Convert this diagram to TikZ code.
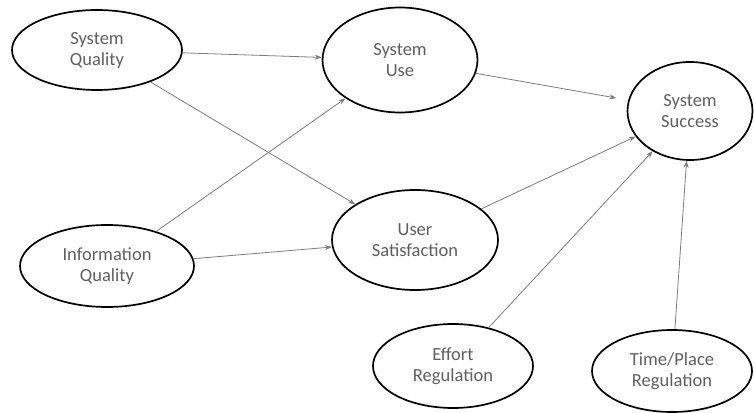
\documentclass[tikz,border=0pt]{standalone}
\usepackage{fontspec}
\setmainfont{Carlito}
\usetikzlibrary{arrows.meta,shapes.geometric}
\definecolor{inkgray}{RGB}{95,95,95}
\definecolor{linegray}{RGB}{125,125,125}

\begin{document}
\begin{tikzpicture}[x=1pt,y=1pt,
  construct/.style={draw=black,line width=1.7pt,ellipse,inner sep=0pt,align=center,text=inkgray,font=\fontsize{18.5}{21}\selectfont},
  arr/.style={-{Stealth[length=7pt,width=5pt]},linegray,line width=0.8pt}
]
\useasboundingbox (0,0) rectangle (754,412);
\node[construct,minimum width=170pt,minimum height=80pt] (sq) at (97,362) {System\\Quality};
\node[construct,minimum width=155pt,minimum height=105pt] (su) at (400,352) {System\\Use};
\node[construct,minimum width=125pt,minimum height=98pt] (ss) at (690,301) {System\\Success};
\node[construct,minimum width=166pt,minimum height=100pt] (us) at (415,172) {User\\Satisfaction};
\node[construct,minimum width=174pt,minimum height=82pt] (iq) at (107,146) {Information\\Quality};
\node[construct,minimum width=160pt,minimum height=84pt] (er) at (453,46) {Effort\\Regulation};
\node[construct,minimum width=160pt,minimum height=82pt] (tp) at (672,41) {Time/Place\\Regulation};
\draw[arr] (sq) -- (su);
\draw[arr] (sq) -- (us);
\draw[arr] (iq) -- (su);
\draw[arr] (iq) -- (us);
\draw[arr,shorten >=12pt] (su) -- (ss);
\draw[arr] (us) -- (ss);
\draw[arr] (er) -- (ss);
\draw[arr] (tp) -- (ss);
\end{tikzpicture}
\end{document}
